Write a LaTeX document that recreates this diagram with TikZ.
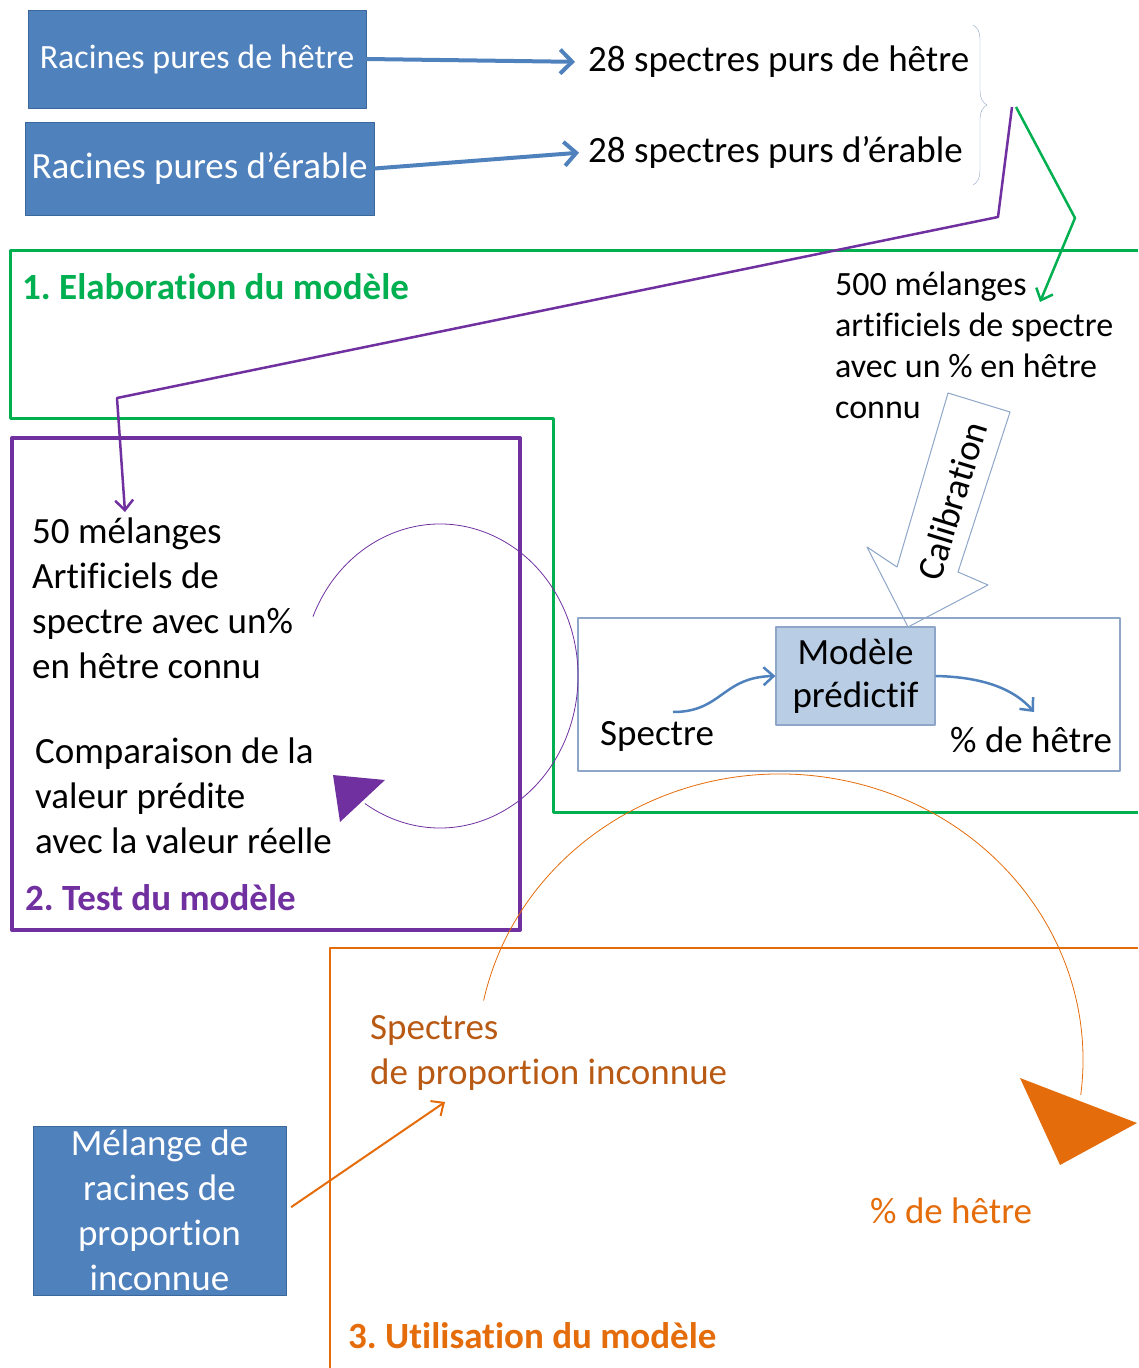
\documentclass[tikz,border=0pt]{standalone}
\usepackage{fontspec}
\setmainfont{Carlito}[Ligatures={NoCommon,NoContextual}, Contextuals=NoAlternate]
\usepackage{tikz}
\usetikzlibrary{positioning, arrows.meta, decorations.pathreplacing}
\frenchspacing

\definecolor{boxblue}{HTML}{4F81BD}
\definecolor{boxedge}{HTML}{3A679C}
\definecolor{lightblue}{HTML}{B9CDE5}
\definecolor{edgegrey}{HTML}{8EA6C8}
\definecolor{purple2}{HTML}{7030A0}
\definecolor{green2}{HTML}{00B050}
\definecolor{orange2}{HTML}{E46C0A}
\definecolor{brown2}{HTML}{B85A14}

\tikzset{
  racine/.style={draw=boxedge, fill=boxblue, text=white, inner sep=0pt, align=center,
    font=\fontsize{37}{45}\selectfont},
  txt/.style={inner sep=0pt, align=left, font=\fontsize{37}{45}\selectfont},
  titre/.style={inner sep=0pt, anchor=base west, font=\fontsize{37}{45}\selectfont\bfseries},
  grosfleche/.style={-{Straight Barb[length=12pt,width=24pt,line width=4pt]}},
  fleche/.style={-{Straight Barb[length=10pt,width=18pt]}},
}

\begin{document}
\begin{tikzpicture}[x=1pt, y=-1pt, line join=round]
    \useasboundingbox (0,0) rectangle (1138,1368);

    % Pure roots and their spectra
    \node[racine, minimum width=338, minimum height=98, font=\fontsize{34}{45}\selectfont] (hetre)
        at (197,59) {\raisebox{-3pt}{Racines pures de hêtre}};
    \node[racine, minimum width=349, minimum height=93] (erable) at (199.5,168.5) {Racines pures d’érable};
    \node[txt, anchor=west] (sphetre) at (588,62) {28 spectres purs de hêtre};
    \node[txt, anchor=west] (sperable) at (588,152) {28 spectres purs d’érable};

    \draw[grosfleche, boxblue, line width=4, shorten >=13pt] (hetre.east) -- (sphetre.west);
    \draw[grosfleche, boxblue, line width=4, shorten >=9pt] (erable.east) -- (sperable.west);

    % Brace on the two sets of spectra
    \draw[edgegrey, decorate, decoration={brace, amplitude=14pt}] (973,25) -- (973,185);
    \coordinate (bracetip) at (1012,107);

    % 1. Elaboration du modele
    \draw[green2, line width=3] (1138,250) -- (10,250) -- (10,418) -- (553,418) -- (553,812) -- (1138,812);
    \node[titre, text=green2] (elab) at (22,299) {1. Elaboration du modèle};
    \node[txt, anchor=base west, font=\fontsize{34}{41}\selectfont] (melart) at (835,418)
        {500 mélanges\\artificiels de spectre\\avec un \% en hêtre\\connu};
    \coordinate (vert) at (1075,218);
    \draw[fleche, green2, line width=2.5] ([xshift=4pt]bracetip) -- (vert) -- (1040,302);

    % Calibration arrow
    \draw[edgegrey, fill=white, line width=1] (948,393) -- (1010,412) -- (958,572) -- (988,585)
        -- (908,627) -- (867,547) -- (897,567) -- cycle;
    \node[txt, rotate=73] (calib) at (952,501) {Calibration};

    % Predictive model
    \draw[edgegrey, line width=1.2] (578,618) rectangle (1120,771);
    \node[draw=edgegrey, fill=lightblue, line width=1.2, minimum width=159, minimum height=98,
        inner sep=0pt, align=center, font=\fontsize{37}{43}\selectfont] (modele) at (855.5,676)
        {Modèle\\prédictif};
    \node[txt, anchor=west] (spectre) at (600,736) {Spectre};
    \node[txt, anchor=west] (pourcent) at (950,740) {\% de hêtre};
    \coordinate (spin) at (673,712);
    \coordinate (pout) at (1034,712);
    \draw[fleche, boxblue, line width=2.5] (spin) .. controls (722,712) and (722,677) .. (modele.west);
    \draw[fleche, boxblue, line width=2.5] (modele.east) .. controls (985,677) and (1015,690) .. (pout);

    % 2. Test du modele
    \draw[purple2, line width=4] (12,438) rectangle (520,930);
    \node[txt, anchor=base west] (test) at (32,678)
        {50 mélanges\\Artificiels de\\spectre avec un\%\\en hêtre connu};
    \node[txt, anchor=base west] (compar) at (35,853)
        {Comparaison de la\\valeur prédite\\avec la valeur réelle};
    \node[titre, text=purple2] (testmod) at (25,910) {2. Test du modèle};
    \coordinate (coude) at (117,398);
    \draw[fleche, purple2, line width=2.5] (bracetip) -- (998,217) -- (coude) -- (125,512);
    % loop of the test
    \draw[purple2, line width=0.8] (440,676) ++(-157:138 and 152) arc[start angle=-157, end angle=123, x radius=138, y radius=152];
    \fill[purple2] (333,775) -- (385,780) -- (340,822) -- cycle;

    % 3. Utilisation du modele
    \draw[orange2, line width=1.5] (330,1368) -- (330,948) -- (1138,948);
    \node[txt, anchor=base west, text=brown2] (inconnu) at (370,1084)
        {Spectres\\de proportion inconnue};
    \node[txt, anchor=west, text=orange2] (resultat) at (870,1211) {\% de hêtre};
    \node[titre, text=orange2] (util) at (348,1348) {3. Utilisation du modèle};
    \node[racine, minimum width=253, minimum height=169] (melange) at (159.5,1210.5)
        {Mélange de\\racines de\\proportion\\inconnue};
    \coordinate (vers) at (445,1102);
    \draw[fleche, orange2, line width=2, shorten <=6pt] (melange.east) -- (vers);
    % loop of the use
    \draw[orange2, line width=0.8] (780,1060) ++(-168:303 and 286) arc[start angle=-168, end angle=7, x radius=303, y radius=286];
    \fill[orange2] (1020,1078) -- (1137,1123) -- (1060,1165) -- cycle;
\end{tikzpicture}
\end{document}
